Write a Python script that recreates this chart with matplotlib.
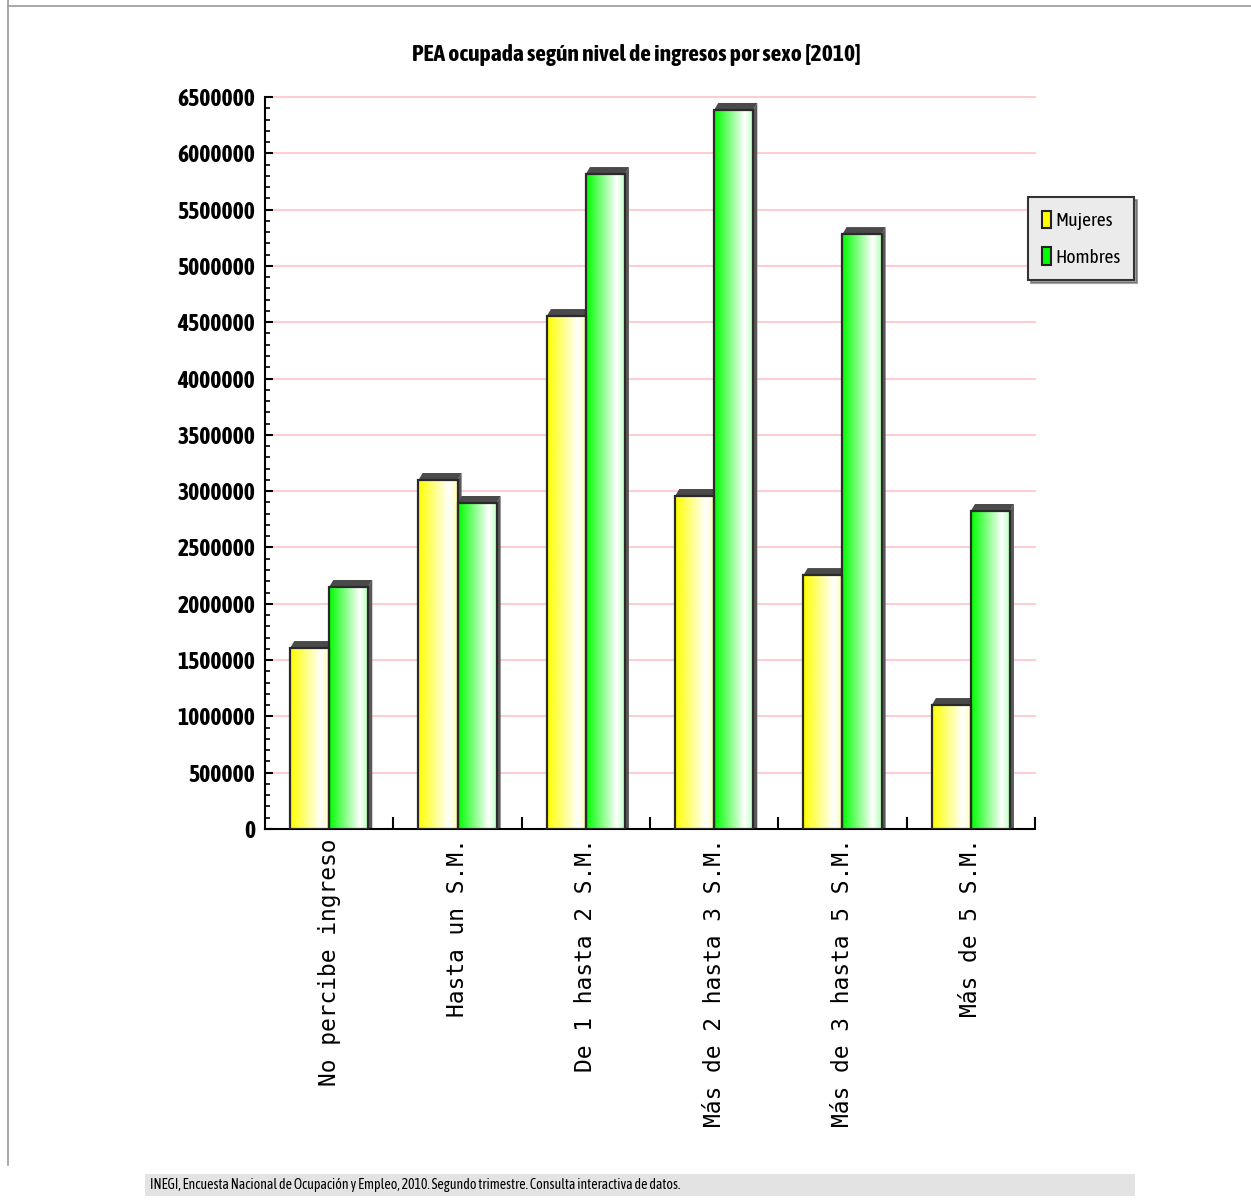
import numpy as np
import matplotlib
matplotlib.use("Agg")
import matplotlib.pyplot as plt
from matplotlib.patches import Rectangle, Polygon
from matplotlib.lines import Line2D

# datos
categorias = ['No percibe ingreso', 'Hasta un S.M.', 'De 1 hasta 2 S.M.',
              'Más de 2 hasta 3 S.M.', 'Más de 3 hasta 5 S.M.', 'Más de 5 S.M.']
mujeres = [1607000, 3099000, 4555000, 2957000, 2255000, 1101000]
hombres = [2149000, 2895000, 5816000, 6385000, 5283000, 2824000]
series = ['Mujeres', 'Hombres']
colores = ['#ffff00', '#00ff00']
yticks = list(range(0, 6500001, 500000))

narrow = ['Asap Condensed', 'Saira Condensed', 'DejaVu Sans']
mono = ['DejaVu Sans Mono']

fig = plt.figure(figsize=(12.51, 12.03), dpi=100)
ax = fig.add_axes([265 / 1251, 1 - 829 / 1203, 770 / 1251, 732 / 1203])

ancho = 0.304
dx = 0.032
dy = 62000


def degradado(color):
    base = np.array(matplotlib.colors.to_rgb(color))
    blanco = np.ones(3)
    out = []
    for p in np.linspace(0, 1, 60):
        if p < 0.78:
            t = p / 0.78
        else:
            t = 1 - (p - 0.78) / 0.22 * 0.3
        out.append(base * (1 - t) + blanco * t)
    return np.array(out)[None, :, :]


x = np.arange(len(categorias)) + 0.5
for k, valores in enumerate([mujeres, hombres]):
    grad = degradado(colores[k])
    for xi, v in zip(x, valores):
        x0 = xi - ancho + k * ancho
        x1 = x0 + ancho
        # cara lateral y superior (sombra)
        ax.add_patch(Polygon([(x1, 0), (x1, v), (x1 + dx, v + dy), (x1 + dx, 0)],
                             closed=True, facecolor='#5a5a5a', edgecolor='none', zorder=2))
        ax.add_patch(Polygon([(x0, v), (x0 + dx, v + dy), (x1 + dx, v + dy), (x1, v)],
                             closed=True, facecolor='#4a4a4a', edgecolor='none', zorder=2))
        ax.imshow(grad, extent=[x0, x1, 0, v], aspect='auto', zorder=3, interpolation='bilinear')
        ax.add_patch(Rectangle((x0, 0), ancho, v, facecolor='none',
                               edgecolor='#2a2a2a', linewidth=1.6, zorder=4))

ax.set_xlim(0, len(categorias))
ax.set_ylim(0, 6500000)

for yt in yticks[1:]:
    ax.axhline(yt, color='#ffc8cc', linewidth=1.3, zorder=1, clip_on=False)

for s in ['top', 'right']:
    ax.spines[s].set_visible(False)
ax.spines['left'].set_linewidth(1.5)
ax.spines['bottom'].set_linewidth(1.5)

ax.set_yticks(yticks)
ax.set_yticklabels([str(t) for t in yticks], fontfamily=narrow, fontweight='bold', fontsize=17)
ax.set_yticks(range(0, 6500001, 100000), minor=True)
ax.tick_params(axis='y', which='major', direction='in', length=6, width=1.5, pad=7)
ax.tick_params(axis='y', which='minor', direction='in', length=3.5, width=1.2)

ax.set_xticks(x)
ax.set_xticklabels(categorias, rotation=90, fontfamily=mono, fontsize=16.5, va='top', ha='center')
ax.set_xticks(np.arange(1, len(categorias) + 1), minor=True)
ax.tick_params(axis='x', which='major', length=0, pad=7)
ax.tick_params(axis='x', which='minor', direction='in', length=9, width=1.5)

fig.text(636 / 1251, 1 - 55 / 1203, 'PEA ocupada según nivel de ingresos por sexo [2010]',
         ha='center', va='center', fontfamily=narrow, fontweight='bold', fontsize=16.9)

handles = [Rectangle((0, 0), 1, 1, facecolor=c, edgecolor='#222222', linewidth=1.5) for c in colores]
leg = fig.legend(handles, series, loc='upper left', bbox_to_anchor=(1028 / 1251, 1 - 197 / 1203),
                 prop={'family': narrow, 'size': 14}, frameon=True, fancybox=False, shadow=True,
                 handlelength=0.5, handleheight=1.0, handletextpad=0.2, borderpad=0.7,
                 labelspacing=0.9, borderaxespad=0)
leg.get_frame().set_facecolor('#ebebeb')
leg.get_frame().set_edgecolor('#333333')
leg.get_frame().set_linewidth(1.5)

# pie de pagina
fig.patches.append(Rectangle((145 / 1251, 1 - 1196 / 1203), 990 / 1251, 22 / 1203,
                             transform=fig.transFigure, facecolor='#e3e3e3', edgecolor='none'))
fig.text(150 / 1251, 1 - 1185 / 1203,
         'INEGI, Encuesta Nacional de Ocupación y Empleo, 2010. Segundo trimestre. Consulta interactiva de datos.',
         ha='left', va='center', fontfamily=narrow, fontsize=10)

# marco
fig.lines.append(Line2D([8 / 1251, 8 / 1251], [1 - 1165 / 1203, 1], transform=fig.transFigure,
                        color='#999999', linewidth=1.2))
fig.lines.append(Line2D([8 / 1251, 1], [1 - 6 / 1203, 1 - 6 / 1203], transform=fig.transFigure,
                        color='#999999', linewidth=1.2))

fig.savefig('out.png', dpi=100)
